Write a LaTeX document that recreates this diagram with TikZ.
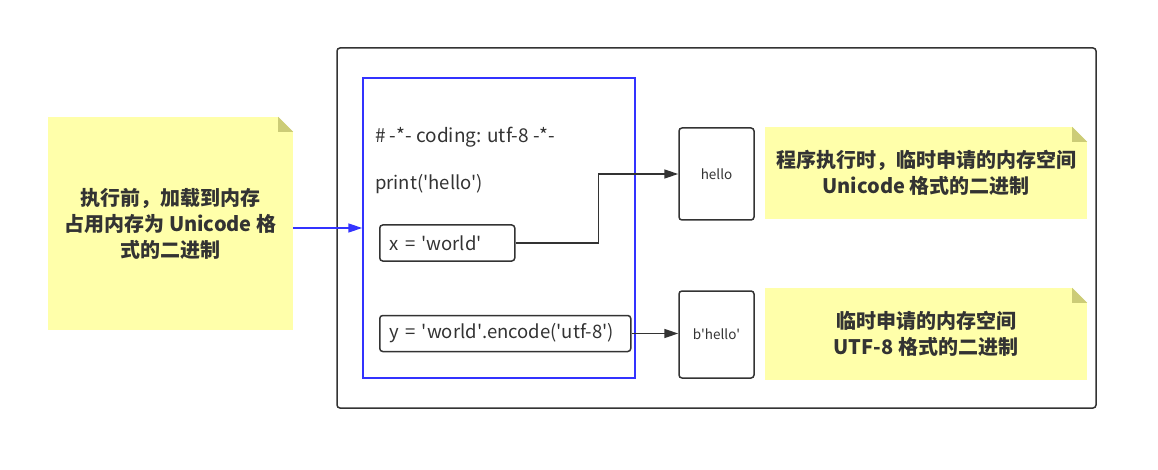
\documentclass[tikz,border=0pt]{standalone}
\usepackage{fontspec}
\setmainfont{Noto Sans CJK SC}
\usetikzlibrary{arrows.meta}
\usetikzlibrary{positioning}

\definecolor{notefill}{HTML}{FFFFAA}
\definecolor{notefold}{HTML}{CCCC77}
\definecolor{ink}{HTML}{333333}
\definecolor{codeblue}{HTML}{3333FF}

\tikzset{
  note/.style={fill=notefill, inner sep=0pt, text=ink, align=center,
    font=\bfseries\fontsize{20}{26}\selectfont},
  code/.style={text=ink, inner sep=0pt, font=\fontsize{18.5}{20}\selectfont},
  codebox/.style={draw=ink, line width=1.5pt, rounded corners=3pt, text=ink,
    inner xsep=10pt, minimum height=36pt, align=left, font=\fontsize{18.5}{20}\selectfont},
  cell/.style={draw=ink, line width=1.5pt, rounded corners=3pt, text=ink,
    minimum width=75pt, font=\fontsize{13.5}{15}\selectfont},
  >={Triangle[length=14pt,width=9pt]}
}
\newcommand{\sq}{\textquotesingle}

\begin{document}
\begin{tikzpicture}[x=1pt, y=-1pt]
  \useasboundingbox (0,0) rectangle (1158,470);

  % note before running
  \node[note, minimum width=245pt, minimum height=213pt] (n1) at (170.5,223.5)
    {执行前，加载到内存\\占用内存为 Unicode 格\\式的二进制};
  \fill[white] ([xshift=-15pt]n1.north east) -- (n1.north east) -- ([yshift=-15pt]n1.north east) -- cycle;
  \fill[notefold] ([xshift=-15pt]n1.north east) -- ([xshift=-15pt,yshift=-15pt]n1.north east) -- ([yshift=-15pt]n1.north east) -- cycle;

  % memory
  \node[draw=ink, line width=1.5pt, rounded corners=3pt, minimum width=759pt, minimum height=360pt] (mem) at (716.5,228) {};

  % source file
  \node[draw=codeblue, line width=1.5pt, minimum width=272pt, minimum height=300pt] (src) at (499,228) {};
  \node[code, anchor=west, font=\fontsize{19}{20}\selectfont] (c1) at (375,137) {\# -*- coding: utf-8 -*-};
  \node[code, anchor=west] (c2) at (375,184) {print(\sq hello\sq)};
  \node[codebox, text width=115pt, anchor=west] (x1) at (379,243) {x = \sq world\sq};
  \node[codebox, text width=231pt, anchor=west] (y1) at (379,333.5) {y = \sq world\sq.encode(\sq utf-8\sq)};
    \draw[->, codeblue, line width=1.5pt] (n1.east |- src.west) -- (src.west);

  % values
  \node[cell, minimum height=92pt] (h1) at (716.5,174) {hello};
  \node[cell, minimum height=87pt] (b1) at (716.5,334.5) {b\sq hello\sq};
    \draw[->, ink, line width=1.5pt] (x1.east) -- ++(83,0) |- (h1.west);
    \draw[->, ink, line width=1.5pt] (y1.east) -- (y1.east -| b1.west);

  % notes at run time
  \node[note, minimum width=322pt, minimum height=92pt] (n2) at (926,173)
    {程序执行时，临时申请的内存空间\\Unicode 格式的二进制};
  \fill[white] ([xshift=-15pt]n2.north east) -- (n2.north east) -- ([yshift=-15pt]n2.north east) -- cycle;
  \fill[notefold] ([xshift=-15pt]n2.north east) -- ([xshift=-15pt,yshift=-15pt]n2.north east) -- ([yshift=-15pt]n2.north east) -- cycle;

  \node[note, minimum width=322pt, minimum height=92pt] (n3) at (926,334)
    {临时申请的内存空间\\UTF-8 格式的二进制};
  \fill[white] ([xshift=-15pt]n3.north east) -- (n3.north east) -- ([yshift=-15pt]n3.north east) -- cycle;
  \fill[notefold] ([xshift=-15pt]n3.north east) -- ([xshift=-15pt,yshift=-15pt]n3.north east) -- ([yshift=-15pt]n3.north east) -- cycle;
\end{tikzpicture}
\end{document}
